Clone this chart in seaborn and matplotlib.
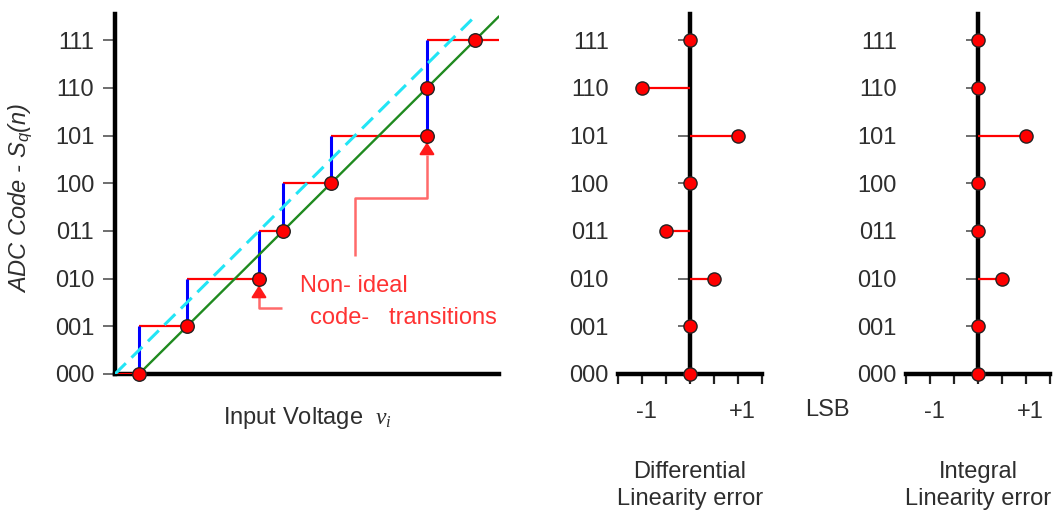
import numpy as np
import pandas as pd
import matplotlib
matplotlib.use("Agg")
import matplotlib.pyplot as plt
from matplotlib.transforms import ScaledTranslation
import seaborn as sns

# ---- data (voltages and errors in LSB units) ----
codes = ['000', '001', '010', '011', '100', '101', '110', '111']
code_idx = list(range(len(codes)))
transitions = [0.5, 1.5, 3.0, 3.5, 4.5, 6.5, 6.5]      # input level of each k -> k+1 step
dot_v = [0.5, 1.5, 3.0, 3.5, 4.5, 6.5, 6.5, 7.5]        # sampled points on the transfer curve
ideal_v = [0.5, 8.0]                                     # ideal (mid-tread) characteristic
ideal_code = [0.0, 7.5]
offset_v = [0.0, 7.5]                                    # unshifted reference line
offset_code = [0.0, 7.5]
dnl = [0, 0, 0.5, -0.5, 0, 1, -1, 0]
inl = [0, 0, 0.5, 0, 0, 1, 0, 0]
v_range = (0.0, 8.0)

sns.set_theme(style="white")
plt.rcParams['font.family'] = ['Liberation Sans', 'DejaVu Sans']
plt.rcParams['mathtext.fontset'] = 'custom'
plt.rcParams['mathtext.it'] = 'Liberation Serif:italic'
plt.rcParams['mathtext.rm'] = 'Liberation Sans'
plt.rcParams['mathtext.sf'] = 'Liberation Sans:italic'

FS = 17
TXT = '#2e2e2e'
RED = '#ff0000'

fig = plt.figure(figsize=(10.54, 5.15), dpi=100)
ax = fig.add_axes([0.1091, 0.2738, 0.3643, 0.699])
ax_d = fig.add_axes([0.5863, 0.2738, 0.1366, 0.699])
ax_i = fig.add_axes([0.8596, 0.2738, 0.1366, 0.699])

# ---- transfer characteristic ----
h_start = [v_range[0]] + transitions
h_end = transitions + [v_range[1]]
ax.hlines(code_idx, h_start, h_end, color=RED, lw=1.6, zorder=3)
ax.vlines(transitions, code_idx[:-1], code_idx[1:], color='#0000ff', lw=2.2, zorder=3)

sns.lineplot(x=ideal_v, y=ideal_code, ax=ax, color='#1f8a1f', lw=1.7, sort=False, zorder=4)
sns.lineplot(x=offset_v, y=offset_code, ax=ax, color='#22e5f5', lw=2.2, sort=False, zorder=4)
ax.lines[-1].set_dashes((5, 2.6))

pts = pd.DataFrame({'v': dot_v, 'code': code_idx})
sns.scatterplot(data=pts, x='v', y='code', ax=ax, s=95, color=RED, edgecolor='#222222',
                linewidth=1.0, zorder=6, clip_on=False)

ax.set_xlim(*v_range)
ax.set_ylim(0, 7.55)
ax.set_yticks(code_idx, codes)
ax.set_xticks([])
for s in ['top', 'right']:
    ax.spines[s].set_visible(False)
for s in ['left', 'bottom']:
    ax.spines[s].set_linewidth(3.2)
    ax.spines[s].set_color('black')
    ax.spines[s].set_zorder(2)
ax.tick_params(axis='y', length=9, width=1.2, color='#555555', pad=6, labelsize=FS, labelcolor=TXT, left=True)
ax.set_xlabel('Input Voltage  $v_i$', fontsize=FS, color=TXT, labelpad=22)
ax.set_ylabel('ADC Code - S$_\\mathsf{q}$(n)', fontsize=FS, color=TXT, style='italic', va='center')
ax.yaxis.set_label_coords(-0.247, 0.49)

# non-ideal transition call-outs
ANN = '#ff6a6a'
HEAD = '#ff1a1a'
ax.plot([5.0, 5.0, 6.5, 6.5], [2.48, 3.69, 3.69, 4.6], color=ANN, lw=1.8, zorder=2.5,
        solid_capstyle='butt')
ax.annotate('', xy=(6.5, 4.86), xytext=(6.5, 4.62),
            arrowprops=dict(arrowstyle='-|>,head_length=0.6,head_width=0.38', color=HEAD, lw=1.5,
                            shrinkA=0, shrinkB=0), zorder=5)
ax.plot([3.48, 3.0, 3.0], [1.375, 1.375, 1.62], color=ANN, lw=1.8, zorder=2.5, solid_capstyle='butt')
ax.annotate('', xy=(3.0, 1.86), xytext=(3.0, 1.62),
            arrowprops=dict(arrowstyle='-|>,head_length=0.6,head_width=0.38', color=HEAD, lw=1.5,
                            shrinkA=0, shrinkB=0), zorder=5)
ax.text(3.85, 1.85, 'Non- ideal', color='#ff3333', fontsize=FS, va='center', ha='left')
ax.text(4.06, 1.17, 'code-   transitions', color='#ff3333', fontsize=FS, va='center', ha='left')

# ---- DNL / INL panels ----
def error_panel(a, values, title):
    a.hlines(code_idx, 0, values, color=RED, lw=1.6, zorder=3)
    df = pd.DataFrame({'err': values, 'code': code_idx})
    sns.scatterplot(data=df, x='err', y='code', ax=a, s=90, color=RED, edgecolor='#222222',
                    linewidth=1.0, zorder=6, clip_on=False)
    a.set_xlim(-1.5, 1.5)
    a.set_ylim(0, 7.55)
    a.spines['top'].set_visible(False)
    a.spines['right'].set_visible(False)
    a.spines['left'].set_position(('data', 0))
    for s in ['left', 'bottom']:
        a.spines[s].set_linewidth(3.2)
        a.spines[s].set_color('black')
        a.spines[s].set_zorder(2)
    a.set_yticks(code_idx, codes)
    a.tick_params(axis='y', length=8.5, width=1.2, color='#555555', pad=50, labelsize=FS,
                  labelcolor=TXT, left=True)
    ticks = np.arange(-1.5, 1.51, 0.5)
    a.set_xticks(ticks, ['' if abs(abs(t) - 1) > 1e-9 else ('-1' if t < 0 else '+1') for t in ticks])
    a.tick_params(axis='x', length=7.5, width=1.6, color='#222222', pad=12, labelsize=FS,
                  labelcolor=TXT, bottom=True)
    shift = ScaledTranslation(4.5 / 100, 0, fig.dpi_scale_trans)
    for lab in a.get_xticklabels():
        lab.set_transform(lab.get_transform() + shift)
    a.set_xlabel(title, fontsize=FS, color=TXT, labelpad=27, linespacing=1.3)
    a.set_ylabel('')

error_panel(ax_d, dnl, 'Differential\nLinearity error')
error_panel(ax_i, inl, 'Integral\nLinearity error')

fig.text(827 / 1054, 1 - 410 / 515, 'LSB', fontsize=FS, color=TXT, ha='center', va='center')

fig.savefig('out.png', dpi=100)
